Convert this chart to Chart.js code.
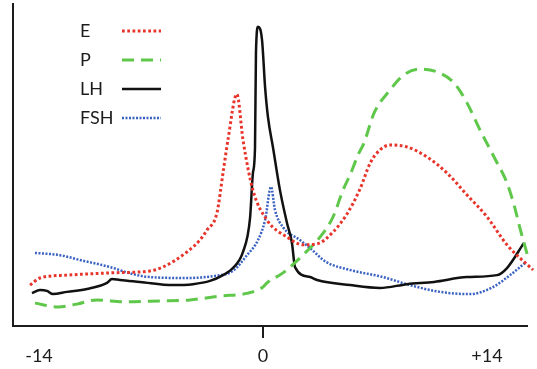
<!DOCTYPE html>
<html>
<head>
<meta charset="utf-8">
<script src="https://cdn.jsdelivr.net/npm/chart.js@4"></script>
<style>
  html, body { margin: 0; padding: 0; background: #fff; }
</style>
</head>
<body>
<canvas id="cycle" width="537" height="369"></canvas>
<script>
// cycle day (x) and relative level (y, 0-100)
const seriesNames = ['E', 'P', 'LH', 'FSH'];
const xTicks = [-14, 0, 14];
const xTickLabels = ['-14', '0', '+14'];

const eDays = [-14.56, -13.94, -12.25, -9.56, -7.06, -6.25, -4.75, -3.94, -3.5, -2.88, -2.5, -2.19, -1.63,
  -1.25, -0.63, 0.25, 1.5, 2.5, 3.38, 4.38, 5.25, 6.06, 6.69, 7.31, 7.94, 9.0, 10.25, 11.5, 12.75, 14.0, 15.25, 16.88];
const eLevels = [12.7, 14.9, 15.8, 16.5, 17.1, 18.3, 23.0, 26.7, 29.8, 35.1, 47.5, 57.8, 72.0,
  57.8, 42.2, 32.9, 27.6, 25.2, 25.5, 29.2, 34.8, 42.5, 50.5, 54.7, 56.2, 55.6, 52.5, 47.5, 40.7, 33.9, 25.2, 17.4];

const pDays = [-14.25, -12.81, -11.63, -10.38, -8.63, -6.44, -4.56, -2.69, -0.94, 0.0, 0.25, 1.25, 2.63, 3.56,
  4.38, 5.0, 5.44, 5.94, 6.31, 6.94, 7.94, 8.81, 9.81, 10.88, 11.94, 12.75, 13.56, 14.44, 15.25, 15.69, 16.06, 16.56];
const pLevels = [7.1, 5.9, 6.8, 8.1, 7.5, 7.8, 8.1, 9.3, 10.2, 12.1, 13.4, 16.5, 22.7, 27.6,
  33.9, 42.2, 46.9, 53.1, 56.8, 66.1, 73.3, 78.0, 79.8, 78.9, 75.5, 69.3, 60.9, 52.5, 44.4, 37.6, 30.4, 21.4];

const lhDays = [-14.44, -13.94, -13.5, -13.13, -12.25, -11.0, -9.75, -9.44, -8.94, -7.69, -5.63, -4.38, -3.31,
  -2.5, -1.88, -1.25, -0.81, -0.63, -0.5, -0.44, -0.31, -0.06, 0.13, 0.31, 0.63, 1.06, 1.5, 1.81, 2.0, 2.94,
  3.38, 5.44, 7.31, 9.0, 10.69, 12.75, 14.63, 15.25, 16.31];
const lhLevels = [10.2, 11.2, 10.9, 9.9, 10.6, 11.5, 13.4, 14.6, 14.3, 13.7, 12.7, 13.0, 14.0,
  15.8, 18.0, 23.0, 33.5, 47.5, 55.3, 84.8, 92.9, 88.8, 74.2, 64.9, 55.3, 42.2, 32.0, 25.8, 18.3, 15.2,
  14.3, 12.7, 11.8, 13.0, 13.7, 15.2, 15.8, 18.0, 25.8];

const fshDays = [-14.25, -12.69, -11.44, -9.56, -8.13, -7.06, -4.75, -3.13, -1.88, -1.0, -0.31, 0.13, 0.5,
  0.75, 1.25, 2.31, 2.94, 3.94, 5.44, 7.5, 9.19, 11.06, 12.94, 14.38, 15.44, 16.38];
const fshLevels = [22.7, 22.0, 20.5, 18.3, 16.1, 15.2, 14.9, 15.5, 17.1, 22.0, 26.7, 32.9, 43.2,
  36.0, 30.7, 26.7, 24.2, 19.9, 17.4, 15.2, 12.7, 10.6, 9.9, 12.1, 15.8, 19.6];

const toPoints = (xs, ys) => xs.map((x, i) => ({ x: x, y: ys[i] }));

const FONT = '18px Lato, "Open Sans", sans-serif';
const AXIS = '#1c1c1c';

// legend drawn as "name  ----" rows inside the plot, like the original
const sideLegend = {
  id: 'sideLegend',
  afterDraw(chart) {
    const ctx = chart.ctx;
    const area = chart.chartArea;
    const textX = area.left + 67;
    const lineX0 = area.left + 109;
    const lineX1 = area.left + 148;
    ctx.save();
    ctx.font = FONT;
    ctx.textBaseline = 'middle';
    chart.data.datasets.forEach((ds, i) => {
      const y = area.top + 27 + i * 29;
      ctx.fillStyle = AXIS;
      ctx.fillText(ds.label, textX, y);
      ctx.beginPath();
      ctx.strokeStyle = ds.borderColor;
      ctx.lineWidth = ds.borderWidth;
      ctx.setLineDash(ds.borderDash || []);
      ctx.moveTo(lineX0, y);
      ctx.lineTo(lineX1, y);
      ctx.stroke();
    });
    ctx.restore();
  }
};

new Chart(document.getElementById('cycle'), {
  type: 'line',
  data: {
    datasets: [
      {
        label: seriesNames[0],
        data: toPoints(eDays, eLevels),
        borderColor: '#e8352b',
        borderWidth: 3,
        borderDash: [2.75, 2.5]
      },
      {
        label: seriesNames[1],
        data: toPoints(pDays, pLevels),
        borderColor: '#5fc84b',
        borderWidth: 3,
        borderDash: [12, 7]
      },
      {
        label: seriesNames[2],
        data: toPoints(lhDays, lhLevels),
        borderColor: '#111',
        borderWidth: 2.5
      },
      {
        label: seriesNames[3],
        data: toPoints(fshDays, fshLevels),
        borderColor: '#3a62c2',
        borderWidth: 2.5,
        borderDash: [2, 1.5]
      }
    ]
  },
  options: {
    responsive: false,
    animation: false,
    devicePixelRatio: 1,
    layout: { padding: { left: 13, right: 10, top: 4, bottom: 0 } },
    elements: {
      point: { radius: 0 },
      line: { cubicInterpolationMode: 'monotone', fill: false }
    },
    datasets: { line: { clip: false } },
    plugins: {
      legend: { display: false },
      tooltip: { enabled: false }
    },
    scales: {
      x: {
        type: 'linear',
        min: -15.625,
        max: 16.5,
        afterBuildTicks: (scale) => { scale.ticks = xTicks.map(v => ({ value: v })); },
        afterFit: (scale) => { scale.height = 43; },
        ticks: {
          color: AXIS,
          font: { family: 'Lato, "Open Sans", sans-serif', size: 18 },
          padding: 7,
          maxRotation: 0,
          autoSkip: false,
          callback: (v) => xTickLabels[xTicks.indexOf(v)]
        },
        grid: {
          drawOnChartArea: false,
          tickLength: 12,
          lineWidth: 2,
          color: (c) => (c.tick && c.tick.value === 0 ? AXIS : 'rgba(0,0,0,0)')
        },
        border: { display: true, color: AXIS, width: 2 }
      },
      y: {
        min: 0,
        max: 100,
        afterFit: (scale) => { scale.width = 0; },
        ticks: { display: false },
        grid: { display: false },
        border: { display: true, color: AXIS, width: 2 }
      }
    }
  },
  plugins: [sideLegend]
});
</script>
</body>
</html>
